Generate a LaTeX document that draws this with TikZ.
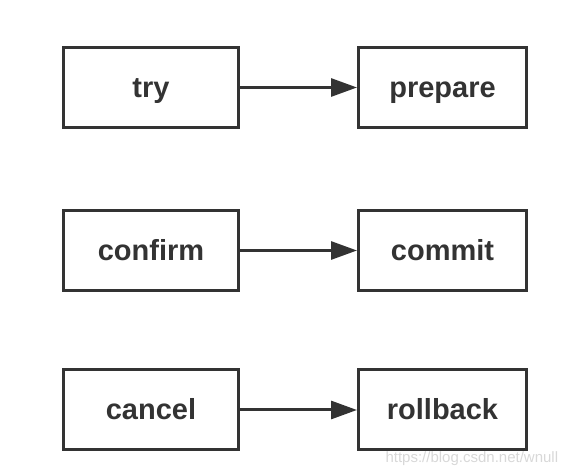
\documentclass[tikz,border=0pt]{standalone}
\usepackage{fontspec}
\setmainfont{Liberation Sans}
\usetikzlibrary{arrows.meta,positioning}
\definecolor{boxline}{HTML}{333333}
\definecolor{marktext}{HTML}{D8D8D8}

\begin{document}
\begin{tikzpicture}[x=1pt, y=1pt]
  \tikzstyle{stage}=[rectangle, draw=boxline, line width=3pt, fill=white, minimum height=80pt, text height=24pt, text depth=4pt, font=\fontsize{29}{32}\selectfont\bfseries, text=boxline]
  \tikzstyle{flow}=[-{Triangle[length=26pt, width=18pt]}, draw=boxline, line width=3pt]
  \useasboundingbox (0,0) rectangle (574,472);

  % Fase de la aplicacion
  \node[stage, minimum width=175pt] (try) at (151,384.5) {try};
  \node[stage, minimum width=175pt] (confirm) at (151,221.5) {confirm};
  \node[stage, minimum width=175pt] (cancel) at (151,62) {cancel};

  % Fase del recurso
  \node[stage, minimum width=168pt] (prepare) at (442.5,384.5) {prepare};
  \node[stage, minimum width=168pt] (commit) at (442.5,221.5) {commit};
  \node[stage, minimum width=168pt] (rollback) at (442.5,62) {rollback};

  % Conexiones
  \draw[flow] (try) -- (prepare);
  \draw[flow] (confirm) -- (commit);
  \draw[flow] (cancel) -- (rollback);

  % Marca de agua
  \node[font=\fontsize{15}{16}\selectfont, text=marktext, anchor=west] (mark) at (382,13) {https://blog.csdn.net/wnull};
\end{tikzpicture}
\end{document}
